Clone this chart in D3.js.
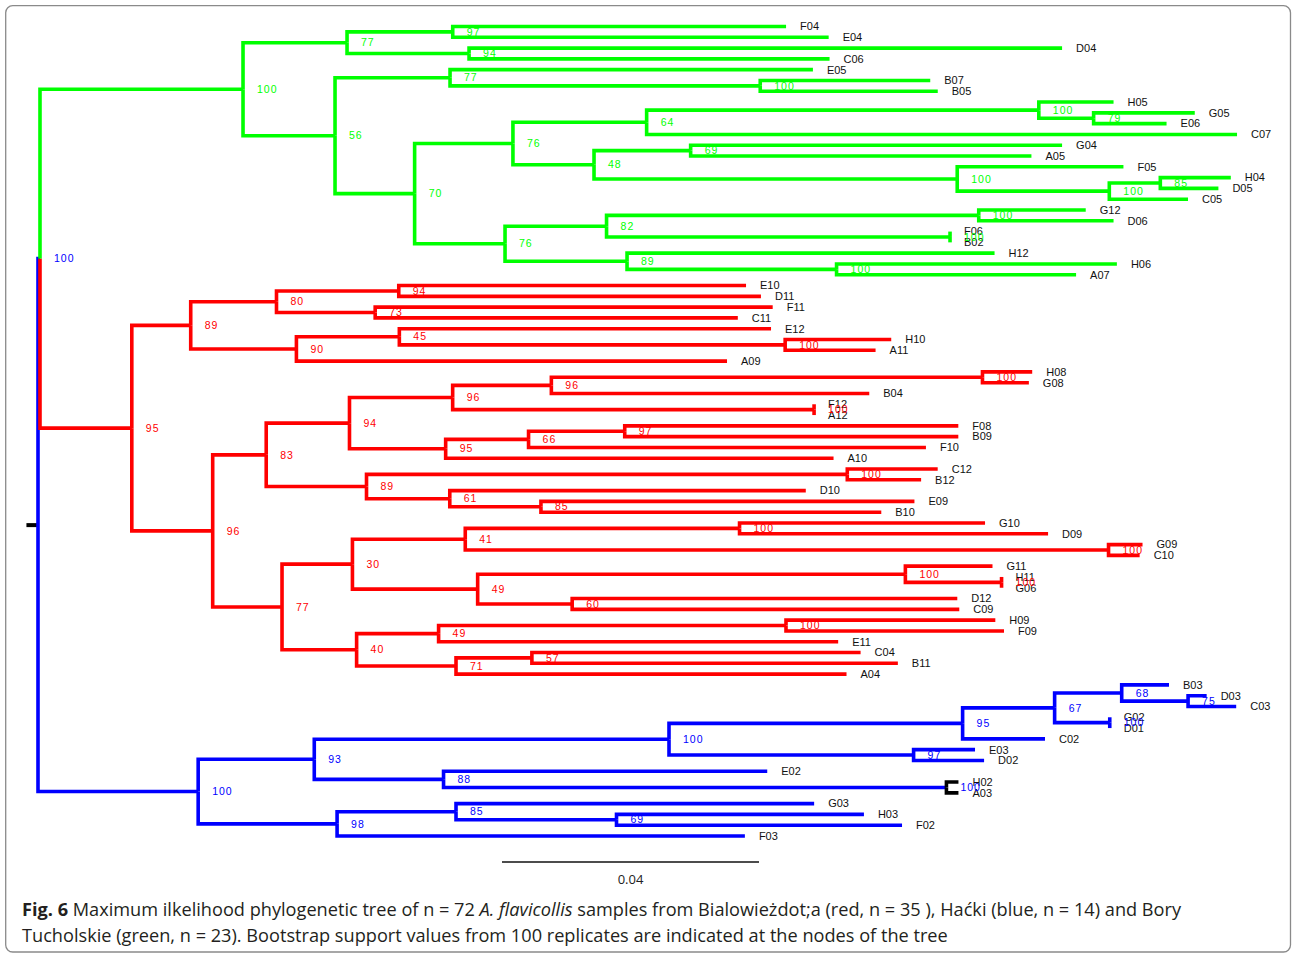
<!DOCTYPE html>
<html>
<head>
<meta charset="utf-8">
<script src="https://cdn.jsdelivr.net/npm/d3@7"></script>
<style>
  html, body { margin: 0; padding: 0; background: #fff; }
  svg { display: block; }
</style>
</head>
<body>
<svg id="chart" width="1292" height="961"></svg>
<script>
// ---- Tree topology: [node id, parent id, branch length (subst./site), bootstrap] ----
const rootRows = [
  ["root", "", 0, null],
  ["gr", "root", 0.00031, 100]
];

const greenClade = [
  ["g100", "gr", 0.03160, 100],
  ["g77a", "g100", 0.01619, 77],
  ["g97", "g77a", 0.01645, 97],
  ["F04", "g97", 0.05188],
  ["E04", "g97", 0.05851],
  ["g94", "g77a", 0.01899, 94],
  ["D04", "g94", 0.09230],
  ["C06", "g94", 0.05611],
  ["g56", "g100", 0.01432, 56],
  ["g77b", "g56", 0.01790, 77],
  ["E05", "g77b", 0.05648],
  ["g100b", "g77b", 0.04828, 100],
  ["B07", "g100b", 0.02646],
  ["B05", "g100b", 0.02763],
  ["g70", "g56", 0.01239, 70],
  ["g76a", "g70", 0.01530, 76],
  ["g64", "g76a", 0.02081, 64],
  ["g100c", "g64", 0.06104, 100],
  ["H05", "g100c", 0.01163],
  ["g79", "g100c", 0.00853, 79],
  ["G05", "g79", 0.01574],
  ["E06", "g79", 0.01135],
  ["C07", "g64", 0.09189],
  ["g48", "g76a", 0.01262, 48],
  ["g69", "g48", 0.01504, 69],
  ["G04", "g69", 0.05781],
  ["A05", "g69", 0.05304],
  ["g100d", "g48", 0.05653, 100],
  ["F05", "g100d", 0.02587],
  ["g100e", "g100d", 0.02367, 100],
  ["g85", "g100e", 0.00794, 85],
  ["H04", "g85", 0.01097],
  ["D05", "g85", 0.00904],
  ["C05", "g100e", 0.01225],
  ["g76b", "g70", 0.01407, 76],
  ["g82", "g76b", 0.01580, 82],
  ["g100f", "g82", 0.05793, 100],
  ["G12", "g100f", 0.01665],
  ["D06", "g100f", 0.02098],
  ["g100g", "g82", 0.05346, 100],
  ["F06", "g100g", 0],
  ["B02", "g100g", 0],
  ["g89", "g76b", 0.01899, 89],
  ["H12", "g89", 0.05720],
  ["g100h", "g89", 0.03261, 100],
  ["H06", "g100h", 0.04363],
  ["A07", "g100h", 0.03728]
];

const redClade = [
  ["r95", "gr", 0.01429, 95],
  ["r89", "r95", 0.00917, 89],
  ["r80", "r89", 0.01335, 80],
  ["r94", "r80", 0.01903, 94],
  ["E10", "r94", 0.05405],
  ["D11", "r94", 0.05637],
  ["r73", "r80", 0.01536, 73],
  ["F11", "r73", 0.06187],
  ["C11", "r73", 0.05644],
  ["r90", "r89", 0.01645, 90],
  ["r45", "r90", 0.01602, 45],
  ["E12", "r45", 0.05785],
  ["r100a", "r45", 0.06005, 100],
  ["H10", "r100a", 0.01651],
  ["A11", "r100a", 0.01407],
  ["A09", "r90", 0.06702],
  ["r96", "r95", 0.01259, 96],
  ["r83", "r96", 0.00833, 83],
  ["r94b", "r83", 0.01296, 94],
  ["r96b", "r94b", 0.01606, 96],
  ["r96a", "r96b", 0.01536, 96],
  ["r100b", "r96a", 0.06710, 100],
  ["H08", "r100b", 0.00774],
  ["G08", "r100b", 0.00722],
  ["B04", "r96a", 0.04948],
  ["r100c", "r96b", 0.05625, 100],
  ["F12", "r100c", 0],
  ["A12", "r100c", 0],
  ["r95b", "r94b", 0.01497, 95],
  ["r66", "r95b", 0.01290, 66],
  ["r97", "r66", 0.01497, 97],
  ["F08", "r97", 0.05192],
  ["B09", "r97", 0.05192],
  ["F10", "r66", 0.06185],
  ["A10", "r95b", 0.06037],
  ["r89b", "r83", 0.01561, 89],
  ["r100d", "r89b", 0.07483, 100],
  ["C12", "r100d", 0.01407],
  ["B12", "r100d", 0.01149],
  ["r61", "r89b", 0.01296, 61],
  ["D10", "r61", 0.05541],
  ["r85", "r61", 0.01419, 85],
  ["E09", "r85", 0.05813],
  ["B10", "r85", 0.05297],
  ["r77", "r96", 0.01079, 77],
  ["r30", "r77", 0.01096, 30],
  ["r41", "r30", 0.01756, 41],
  ["r100e", "r41", 0.04269, 100],
  ["G10", "r100e", 0.03821],
  ["D09", "r100e", 0.04802],
  ["r100f", "r41", 0.10012, 100],
  ["G09", "r100f", 0.00529],
  ["C10", "r100f", 0.00484],
  ["r49a", "r30", 0.01949, 49],
  ["r100g", "r49a", 0.06657, 100],
  ["G11", "r100g", 0.01356],
  ["r100h", "r100g", 0.01497, 100],
  ["H11", "r100h", 0],
  ["G06", "r100h", 0],
  ["r60", "r49a", 0.01471, 60],
  ["D12", "r60", 0.05994],
  ["C09", "r60", 0.06025],
  ["r40", "r77", 0.01161, 40],
  ["r49b", "r40", 0.01276, 49],
  ["r100i", "r49b", 0.05407, 100],
  ["H09", "r100i", 0.03258],
  ["F09", "r100i", 0.03393],
  ["E11", "r49b", 0.06219],
  ["r71", "r40", 0.01547, 71],
  ["r57", "r71", 0.01181, 57],
  ["C04", "r57", 0.05116],
  ["B11", "r57", 0.05696],
  ["A04", "r71", 0.06078]
];

const blueClade = [
  ["b100", "root", 0.02493, 100],
  ["b93", "b100", 0.01807, 93],
  ["b100b", "b93", 0.05521, 100],
  ["b95", "b100b", 0.04570, 95],
  ["b67", "b95", 0.01432, 67],
  ["b68", "b67", 0.01044, 68],
  ["B03", "b68", 0.00736],
  ["b75", "b68", 0.01033, 75],
  ["D03", "b75", 0.00289],
  ["C03", "b75", 0.00749],
  ["b100c", "b67", 0.00858, 100],
  ["G02", "b100c", 0],
  ["D01", "b100c", 0],
  ["C02", "b95", 0.01282],
  ["b97", "b100b", 0.03807, 97],
  ["E03", "b97", 0.00956],
  ["D02", "b97", 0.01097],
  ["b88", "b93", 0.02012, 88],
  ["E02", "b88", 0.05038],
  ["b100d", "b88", 0.07827, 100],
  ["H02", "b100d", 0.00187],
  ["A03", "b100d", 0.00187],
  ["b98", "b100", 0.02162, 98],
  ["b85", "b98", 0.01851, 85],
  ["G03", "b85", 0.05574],
  ["b69", "b85", 0.02498, 69],
  ["H03", "b69", 0.03851],
  ["F02", "b69", 0.04444],
  ["F03", "b98", 0.06347]
];

// Root edge length drawn to the left of the root node
const rootEdge = 0.0018;

// ---- Sampling sites (tip colours) ----
const boryTucholskie = ["F04","E04","D04","C06","E05","B07","B05","H05","G05","E06","C07","G04",
  "A05","F05","H04","D05","C05","G12","D06","F06","B02","H12","H06","A07"];
const bialowieza = ["E10","D11","F11","C11","E12","H10","A11","A09","H08","G08","B04","F12","A12",
  "F08","B09","F10","A10","C12","B12","D10","E09","B10","G10","D09","G09","C10","G11","H11","G06",
  "D12","C09","H09","F09","E11","C04","B11","A04"];
const hacki = ["B03","D03","C03","G02","D01","C02","E03","D02","E02","G03","H03","F02","F03"];

const siteColours = { bory: "#00ff00", bialowieza: "#ff0000", hacki: "#0000ff" };
const mixedColour = "#0000ff";
const unassignedColour = "#000000";

const scaleBarValue = 0.04;
const captionLine1 = [
  { t: "Fig. 6", w: "bold" },
  { t: " Maximum ilkelihood phylogenetic tree of n = 72 " },
  { t: "A. flavicollis", s: "italic" },
  { t: " samples from Bialowieżdot;a (red, n = 35 ), Haćki (blue, n = 14) and Bory" }
];
const captionLine2 = "Tucholskie (green, n = 23). Bootstrap support values from 100 replicates are indicated at the nodes of the tree";

// ---- Build hierarchy ----
const rows = [...rootRows, ...greenClade, ...redClade, ...blueClade];
const root = d3.stratify()
  .id(r => r[0])
  .parentId(r => r[1] || null)(rows);

root.each(n => {
  n.len = n.data[2];
  n.support = n.data[3];
  n.dist = n.parent ? n.parent.dist + n.len : 0;
});

// Vertical ordering of tips, parents at the mean of their children
d3.cluster().nodeSize([1, 1]).separation(() => 1)(root);

const siteOf = new Map();
boryTucholskie.forEach(id => siteOf.set(id, siteColours.bory));
bialowieza.forEach(id => siteOf.set(id, siteColours.bialowieza));
hacki.forEach(id => siteOf.set(id, siteColours.hacki));

root.eachBefore(n => {
  if (!n.children) { n.colour = siteOf.get(n.id) || unassignedColour; return; }
  const s = new Set(n.leaves().map(l => siteOf.get(l.id)).filter(Boolean));
  if (s.size === 1) n.colour = [...s][0];
  else if (s.size === 0) n.colour = n.parent ? n.parent.colour : unassignedColour;
  else n.colour = mixedColour;
});

const leaves = root.leaves();
const x = d3.scaleLinear().domain([0, scaleBarValue]).range([38, 295]);
const y = d3.scaleLinear()
  .domain(d3.extent(leaves, d => d.x))
  .range([26.5, 836]);

const svg = d3.select("#chart");

// Figure frame
svg.append("rect")
  .attr("x", 5.7).attr("y", 5.7)
  .attr("width", 1284.8).attr("height", 946.3)
  .attr("rx", 7).attr("ry", 7)
  .attr("fill", "none").attr("stroke", "#8a8a8a").attr("stroke-width", 1.3);

const tree = svg.append("g");

// Root edge
tree.append("line")
  .attr("x1", x(-rootEdge)).attr("x2", x(0))
  .attr("y1", y(root.x)).attr("y2", y(root.x))
  .attr("stroke", unassignedColour).attr("stroke-width", 4);

// Branches: elbow from the parent's vertical position to the child
tree.append("g")
  .selectAll("path")
  .data(root.descendants().slice(1))
  .join("path")
  .attr("d", n => `M${x(n.parent.dist)},${y(n.parent.x)}V${y(n.x)}H${x(n.dist)}`)
  .attr("fill", "none")
  .attr("stroke", n => n.colour)
  .attr("stroke-width", 3.6)
  .attr("stroke-linejoin", "miter")
  .attr("stroke-linecap", "butt");

// Tip labels
tree.append("g")
  .selectAll("text")
  .data(leaves)
  .join("text")
  .attr("x", n => x(n.dist) + 14)
  .attr("y", n => y(n.x))
  .attr("dy", "0.35em")
  .attr("font-family", "'Liberation Sans', Arial, sans-serif")
  .attr("font-size", 11)
  .attr("fill", "#111")
  .text(n => n.id);

// Bootstrap support values
tree.append("g")
  .selectAll("text")
  .data(root.descendants().filter(n => n.children && n.support != null))
  .join("text")
  .attr("x", n => x(n.dist) + 14)
  .attr("y", n => y(n.x))
  .attr("dy", "0.35em")
  .attr("font-family", "'Liberation Sans', Arial, sans-serif")
  .attr("font-size", 10.5)
  .attr("letter-spacing", 1)
  .attr("fill", n => n.colour)
  .text(n => n.support);

// Scale bar
const barX0 = 502;
const barLen = x(scaleBarValue) - x(0);
svg.append("line")
  .attr("x1", barX0).attr("x2", barX0 + barLen)
  .attr("y1", 862).attr("y2", 862)
  .attr("stroke", "#111").attr("stroke-width", 1.3);
svg.append("text")
  .attr("x", barX0 + barLen / 2).attr("y", 884)
  .attr("text-anchor", "middle")
  .attr("font-family", "'Open Sans', sans-serif")
  .attr("font-size", 13)
  .attr("fill", "#222")
  .text(d3.format(".2f")(scaleBarValue));

// Caption
const cap = svg.append("g")
  .attr("font-family", "'Open Sans', sans-serif")
  .attr("font-size", 18)
  .attr("fill", "#231f20");
const l1 = cap.append("text").attr("x", 0).attr("y", 916);
l1.selectAll("tspan").data(captionLine1).join("tspan")
  .attr("font-weight", d => d.w || null)
  .attr("font-style", d => d.s || null)
  .text(d => d.t);
const l2 = cap.append("text").attr("x", 0).attr("y", 942).text(captionLine2);
const sx = (948 - 22) / l2.node().getComputedTextLength();
cap.attr("transform", `translate(22,0) scale(${sx},1)`);
</script>
</body>
</html>
